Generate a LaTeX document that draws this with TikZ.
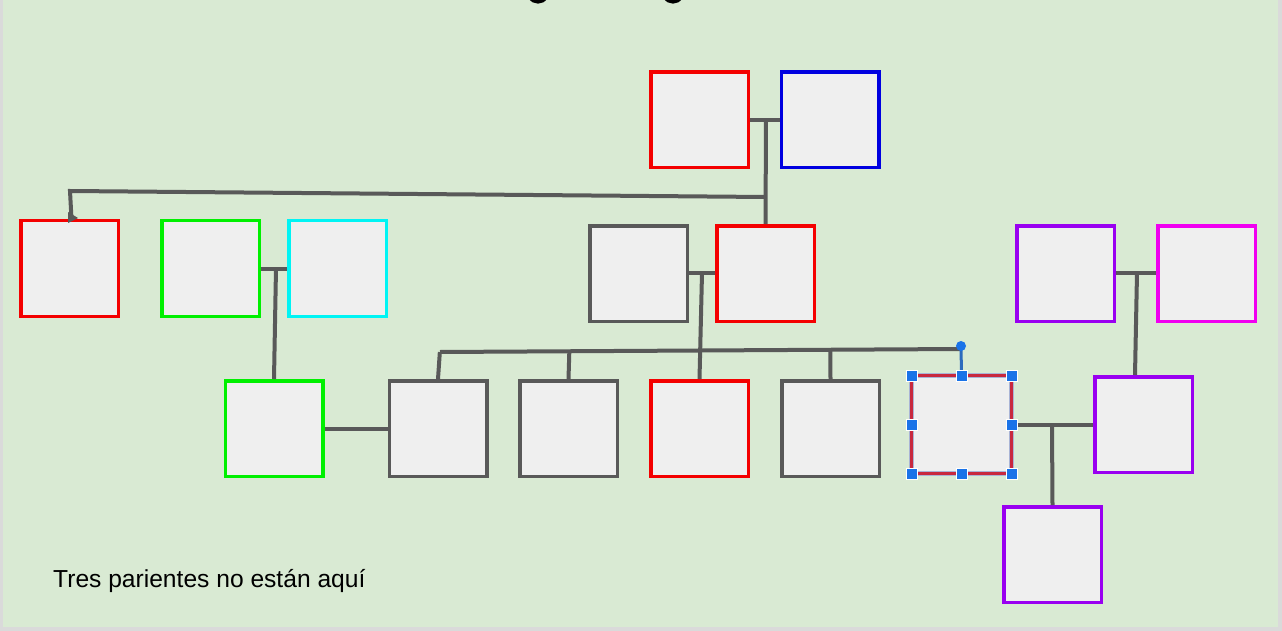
\documentclass[tikz,border=0pt]{standalone}
\usepackage{fontspec}
\setmainfont{Liberation Sans}
\usetikzlibrary{calc}
\definecolor{bg}{HTML}{D9EAD3}
\definecolor{frame}{HTML}{DADADA}
\definecolor{boxfill}{HTML}{EFEFEF}
\definecolor{lnk}{HTML}{595959}
\definecolor{cred}{HTML}{F40000}
\definecolor{cblue}{HTML}{0000E0}
\definecolor{cgreen}{HTML}{00F000}
\definecolor{ccyan}{HTML}{00F4F4}
\definecolor{cpurple}{HTML}{9900F0}
\definecolor{cmag}{HTML}{F000F0}
\definecolor{cgray}{HTML}{595959}
\definecolor{selhalo}{HTML}{A9B4D6}
\definecolor{selred}{HTML}{C8283E}
\definecolor{handle}{HTML}{1A73E8}
\tikzset{
  person/.style={draw=#1, fill=boxfill, line width=3.5pt, minimum width=97.5pt, minimum height=95.5pt, inner sep=0pt, shape=rectangle},
  link/.style={draw=lnk, line width=4pt},
  grip/.style={fill=handle, draw=white, line width=0.8pt, minimum size=11pt, inner sep=0pt, shape=rectangle},
  note/.style={font=\fontsize{24.6pt}{28pt}\selectfont, text=black, inner sep=0pt, anchor=base west}
}
\begin{document}
\begin{tikzpicture}[x=1pt,y=-1pt]
\useasboundingbox (0,0) rectangle (1282,631);
\fill[frame] (0,0) rectangle (1282,631);
\fill[bg] (2.5,0) rectangle (1278,627);
% cut-off title descenders
\begin{scope}
\clip (0,0) rectangle (1282,6);
\draw[line width=3.5pt, black] (530,-3) .. controls (533,3.5) and (543,3.5) .. (546,-3);
\draw[line width=3.5pt, black] (665,-3) .. controls (668,3.5) and (678,3.5) .. (681,-3);
\end{scope}
% people
\node[person=cred]    (A) at (699.5,120) {};
\node[person=cblue]   (B) at (830,120) {};
\node[person=cred]    (C) at (69.5,268.5) {};
\node[person=cgreen]  (D) at (210.5,268.5) {};
\node[person=ccyan]   (E) at (337.5,268.5) {};
\node[person=cgray]   (F) at (638.5,273.5) {};
\node[person=cred]    (G) at (765.5,273.5) {};
\node[person=cpurple] (H) at (1065.5,273.5) {};
\node[person=cmag]    (I) at (1206.5,273.5) {};
\node[person=cgreen]  (J) at (274,428.5) {};
\node[person=cgray]   (K) at (438,428.5) {};
\node[person=cgray]   (L) at (568.5,428.5) {};
\node[person=cred]    (M) at (699.5,428.5) {};
\node[person=cgray]   (N) at (830.5,428.5) {};
\node[person=cpurple] (P) at (1143.5,424.5) {};
\node[person=cpurple] (Q) at (1052.5,554.5) {};
% selected box
\node[draw=selhalo, line width=5.5pt, outer sep=0pt, minimum width=100pt, minimum height=98pt, inner sep=0pt, fill=boxfill] (O) at (961.5,424.5) {};
\draw[selred, line width=2.6pt] (O.north west) rectangle (O.south east);
% connectors
\coordinate (ab) at (766,120);
\coordinate (de) at (276,268);
\coordinate (fg) at (702,273);
\coordinate (hi) at (1137,273);
\coordinate (op) at (1052,424.5);
\coordinate (lt) at (765,197);
\coordinate (lc) at (70,191);
\coordinate (bl) at (440,352);
\coordinate (br) at (961,349);
\draw[link] (A.east) -- (B.west);
\draw[link] (ab) -- (G.north);
\draw[link] (lt) -- (lc) -- ($(C.north)+(2,0)$);
\fill[lnk] (68,212) -- (78,218) -- (68,223) -- cycle;
\draw[link] (D.east) -- (E.west);
\draw[link] (de) -- (J.north);
\draw[link] ($(F.east)+(0,-0.5)$) -- ($(G.west)+(0,-0.5)$);
\draw[link] (fg) -- (M.north);
\draw[link] ($(H.east)+(0,-0.5)$) -- ($(I.west)+(0,-0.5)$);
\draw[link] (hi) -- ($(P.north)+(-8.5,0)$);
\draw[link] (J.east) -- (K.west);
\draw[link] (bl) -- (br);
\draw[link] ($(bl)!(K.north)!(br)+(2,0)$) -- (K.north);
\draw[link] ($(bl)!(L.north)!(br)+(1,0)$) -- (L.north);
\draw[link] ($(bl)!(N.north)!(br)$) -- (N.north);
\draw[link] (O.east) -- (P.west);
\draw[link] (op) -- (Q.north);
% selection handles
\coordinate (rot) at (961,346);
\draw[handle!70!lnk, line width=3pt] (rot) -- (O.north);
\fill[handle] (rot) circle (5pt);
\foreach \a in {north west,north,north east,west,east,south west,south,south east}
  \node[grip] (O-\a) at (O.\a) {};
% note
\node[note] (txt) at (53,587) {Tres parientes no están aquí};
\end{tikzpicture}
\end{document}
